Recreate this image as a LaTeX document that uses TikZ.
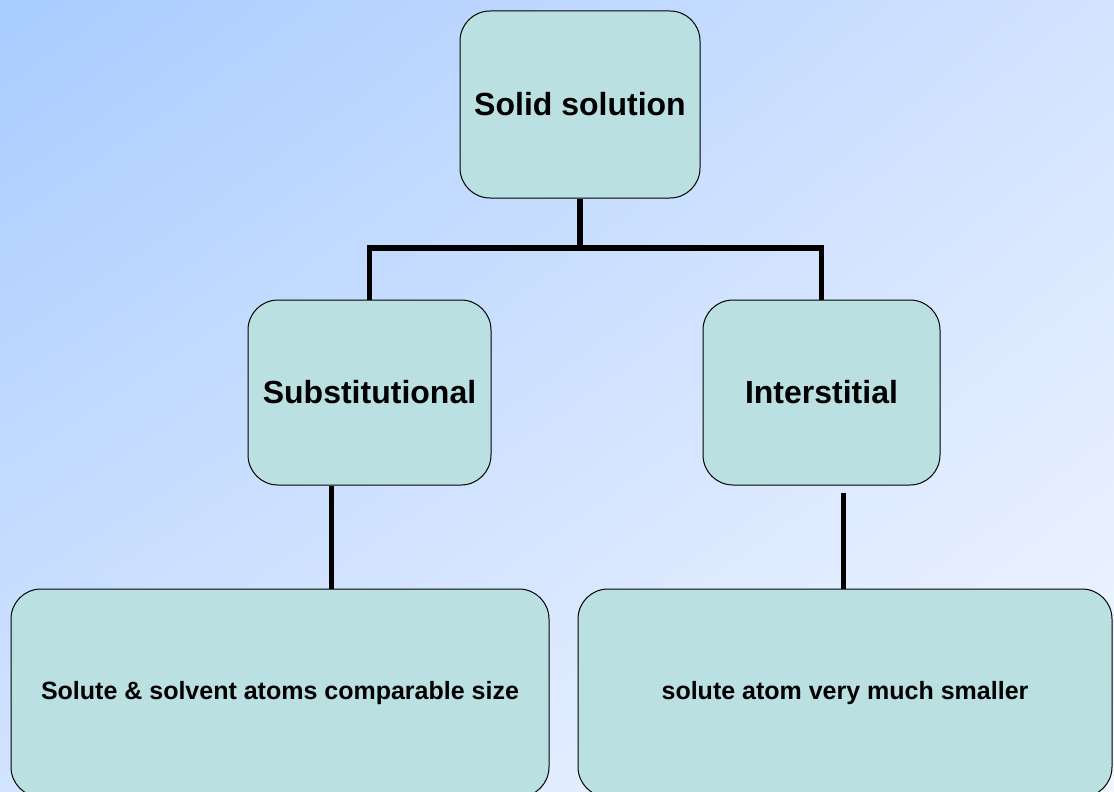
\documentclass[tikz,border=0pt]{standalone}
\usepackage{fontspec}
\setmainfont{Liberation Sans}
\usepackage{xcolor}
\usepackage{tikz}
\usetikzlibrary{positioning,shadings}

\definecolor{bgtl}{RGB}{168,204,255}
\definecolor{bgmid}{RGB}{210,227,255}
\definecolor{bgbr}{RGB}{242,246,255}
\definecolor{boxfill}{RGB}{186,224,226}

\begin{document}
\begin{tikzpicture}[
    x=0.5pt, y=-0.5pt,
    box/.style={draw=black, line width=0.5pt, fill=boxfill, rounded corners=15pt,
      align=center, inner sep=2pt, font=\fontsize{16}{19}\selectfont\bfseries},
    descbox/.style={box, font=\fontsize{12.5}{15}\selectfont\bfseries},
    link/.style={draw=black, line width=2.75pt},
  ]

  % ===== background: diagonal blue-to-white wash =====
  \clip (0,0) rectangle (1114,792);
  \shade[upper left=bgtl, upper right=bgmid, lower left=bgmid, lower right=bgbr]
    (0,0) rectangle (1114,792);

  % ===== boxes =====
  \node[box, minimum width=120pt, minimum height=93.5pt] (solid) at (580,104.5) {Solid solution};
  \node[box, minimum width=121.5pt, minimum height=92.5pt] (subst) at (369.5,392.5) {Substitutional};
  \node[box, minimum width=118.5pt, minimum height=92.5pt] (inter) at (821.5,392.5) {Interstitial};
  \node[descbox, minimum width=269pt, minimum height=104pt] (substdesc) at (280,693) {Solute \& solvent atoms comparable size};
  \node[descbox, minimum width=267pt, minimum height=104pt] (interdesc) at (845,693) {solute atom very much smaller};

  % ===== tree connectors =====
  \coordinate (split) at (580,248);
  \draw[link] (solid.south) -- (split);
  \draw[link] (subst.north) |- (split) -| (inter.north);
  \draw[link] ([xshift=-19pt]subst.south) -- ([xshift=-19pt]subst.south |- substdesc.north);
  \draw[link] ([shift={(11pt,-3.5pt)}]inter.south) -- ([xshift=11pt]inter.south |- interdesc.north);

\end{tikzpicture}
\end{document}
